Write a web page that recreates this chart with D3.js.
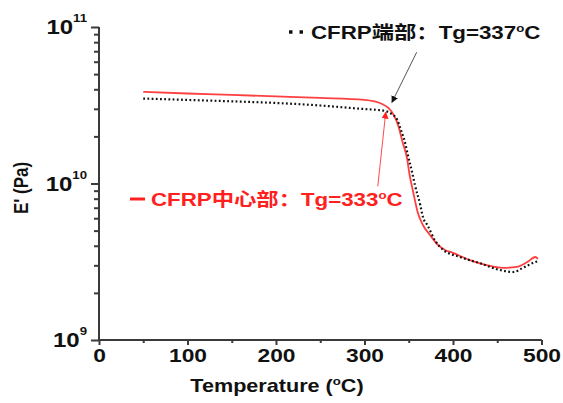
<!DOCTYPE html>
<html><head><meta charset="utf-8">
<script src="https://cdn.jsdelivr.net/npm/d3@7"></script>
<style>body{margin:0;background:#fff}svg{display:block}</style>
</head><body>
<svg id="c" width="563" height="403"></svg>
<script>
// Data (temperature in °C, storage modulus E' in Pa)
const tempCenter = [50,100,150,200,250,300,320,327,333,338,343,348,351,355,360,366,374,383,391,400,419,438,456,472,484,493,496];
const eCenter    = [3.85e10,3.76e10,3.68e10,3.60e10,3.52e10,3.42e10,3.22e10,3.04e10,2.74e10,2.36e10,1.84e10,1.455e10,1.133e10,8.83e9,6.58e9,5.43e9,4.69e9,4.05e9,3.76e9,3.60e9,3.24e9,3.01e9,2.89e9,2.93e9,3.15e9,3.39e9,3.30e9];
const tempEnd = [50,100,150,200,250,300,315,323,330,337,342,346,349,354,357,363,366,371,380,389,408,430,453,468,479,490,495];
const eEnd    = [3.49e10,3.42e10,3.35e10,3.27e10,3.15e10,2.99e10,2.95e10,2.91e10,2.80e10,2.55e10,2.13e10,1.81e10,1.52e10,1.167e10,9.78e9,7.29e9,6.11e9,5.43e9,4.3e9,3.76e9,3.39e9,3.10e9,2.80e9,2.72e9,2.89e9,3.10e9,3.18e9];
const xTicks = [0,100,200,300,400,500];
const xMinor = [50,150,250,350,450];
const yTicks = [1e9,1e10,1e11];
const yExp = ["9","10","11"];
const yMinor = [2e9,3e9,4e9,5e9,6e9,7e9,8e9,9e9,2e10,3e10,4e10,5e10,6e10,7e10,8e10,9e10];
const labelEnd = ["CFRP端部：Tg=337", "C"];
const labelCenter = ["CFRP中心部：Tg=333", "C"];

const svg = d3.select("#c");
const FONT = "'Liberation Sans', Arial, 'Noto Sans CJK SC', sans-serif";
const SX = 1.2;
const x = d3.scaleLinear().domain([0,500]).range([99,541.5]);
const y = d3.scaleLog().domain([1e9,1e11]).range([340,27]);
const axisColor = "#3a3a3a";

// X axis
const gx = svg.append("g").attr("transform","translate(0,340)");
gx.call(d3.axisBottom(x).tickValues(xTicks).tickSize(5).tickPadding(4));
gx.append("g").call(d3.axisBottom(x).tickValues(xMinor).tickSize(3).tickFormat(""));
gx.selectAll("path,line").attr("stroke",axisColor).attr("stroke-width",2);
gx.selectAll("path").attr("d","M99,0H541.5");
gx.selectAll("text").attr("fill","#111").style("font-family",FONT).style("font-weight","bold").style("font-size","19px").attr("transform",`scale(${SX},1)`);

// Y axis
const gy = svg.append("g").attr("transform","translate(99,0)");
gy.call(d3.axisLeft(y).tickValues(yTicks).tickSize(8).tickFormat(""));
gy.append("g").call(d3.axisLeft(y).tickValues(yMinor).tickSize(5).tickFormat(""));
gy.selectAll("path,line").attr("stroke",axisColor).attr("stroke-width",2);
gy.selectAll("path").attr("d","M0,340V27");

// Y tick labels with superscripts
yTicks.forEach((v,i)=>{
  const g = svg.append("g").attr("transform",`translate(87,${y(v)+7}) scale(${SX},1)`);
  const t = g.append("text").attr("text-anchor","end").attr("fill","#111")
    .style("font-family",FONT).style("font-weight","bold").style("font-size","20px");
  t.append("tspan").text("10");
  t.append("tspan").attr("dy",-12).style("font-size","11px").text(yExp[i]);
});

// Axis titles
svg.append("g").attr("transform",`translate(277,392) scale(${SX},1)`)
  .append("text").attr("text-anchor","middle").attr("fill","#111")
  .style("font-family",FONT).style("font-weight","bold").style("font-size","18px")
  .call(t=>{ t.append("tspan").text("Temperature ("); t.append("tspan").attr("dy",-7).style("font-size","11px").text("o"); t.append("tspan").attr("dy",7).text("C)"); });
svg.append("g").attr("transform",`translate(28,188) scale(${SX},1) rotate(-90)`)
  .append("text").attr("text-anchor","middle").attr("fill","#111")
  .style("font-family",FONT).style("font-weight","bold").style("font-size","17px")
  .text("E' (Pa)");

// Series
const line = d3.line().x(d=>x(d[0])).y(d=>y(d[1])).curve(d3.curveMonotoneX);
svg.append("path").datum(tempCenter.map((t,i)=>[t,eCenter[i]]))
  .attr("d",line).attr("fill","none").attr("stroke","#ff4040").attr("stroke-width",1.8);
svg.append("path").datum(tempEnd.map((t,i)=>[t,eEnd[i]]))
  .attr("d",line).attr("fill","none").attr("stroke","#111").attr("stroke-width",2.2)
  .attr("stroke-dasharray","1.8,2.4");

// Arrowheads
const defs = svg.append("defs");
function marker(id,color){
  defs.append("marker").attr("id",id).attr("viewBox","0 0 10 10").attr("refX",9).attr("refY",5)
    .attr("markerWidth",7).attr("markerHeight",7).attr("orient","auto-start-reverse")
    .attr("markerUnits","userSpaceOnUse")
    .append("path").attr("d","M0,0L10,5L0,10Z").attr("fill",color);
}
marker("ab","#111"); marker("ar","#ff2020");

// Annotation arrows (data coordinates)
const arrowEnd = [[359,6.9e10],[331,3.3e10]];
const arrowCenter = [[315,9.6e9],[324,2.85e10]];
svg.append("line").attr("x1",x(arrowEnd[0][0])).attr("y1",y(arrowEnd[0][1]))
  .attr("x2",x(arrowEnd[1][0])).attr("y2",y(arrowEnd[1][1]))
  .attr("stroke","#555").attr("stroke-width",1).attr("marker-end","url(#ab)");
svg.append("line").attr("x1",x(arrowCenter[0][0])).attr("y1",y(arrowCenter[0][1]))
  .attr("x2",x(arrowCenter[1][0])).attr("y2",y(arrowCenter[1][1]))
  .attr("stroke","#ff4a4a").attr("stroke-width",1).attr("marker-end","url(#ar)");

// Legend-style labels
function label(px,py,color,parts){
  const g = svg.append("g").attr("transform",`translate(${px},${py}) scale(${SX},1)`);
  const t = g.append("text").attr("fill",color).style("font-family",FONT).style("font-weight","bold").style("font-size","18.6px");
  t.append("tspan").text(parts[0]);
  t.append("tspan").attr("dy",-7).style("font-size","11px").text("o");
  t.append("tspan").attr("dy",7).text(parts[1]);
}
// sample marks
svg.append("line").attr("x1",289).attr("x2",305).attr("y1",32).attr("y2",32)
  .attr("stroke","#111").attr("stroke-width",3.5).attr("stroke-dasharray","3.5,7");
label(311,39,"#111",labelEnd);
svg.append("line").attr("x1",130).attr("x2",145).attr("y1",199).attr("y2",199)
  .attr("stroke","#ff2020").attr("stroke-width",3);
label(151,206,"#ff2020",labelCenter);
</script>
</body></html>
